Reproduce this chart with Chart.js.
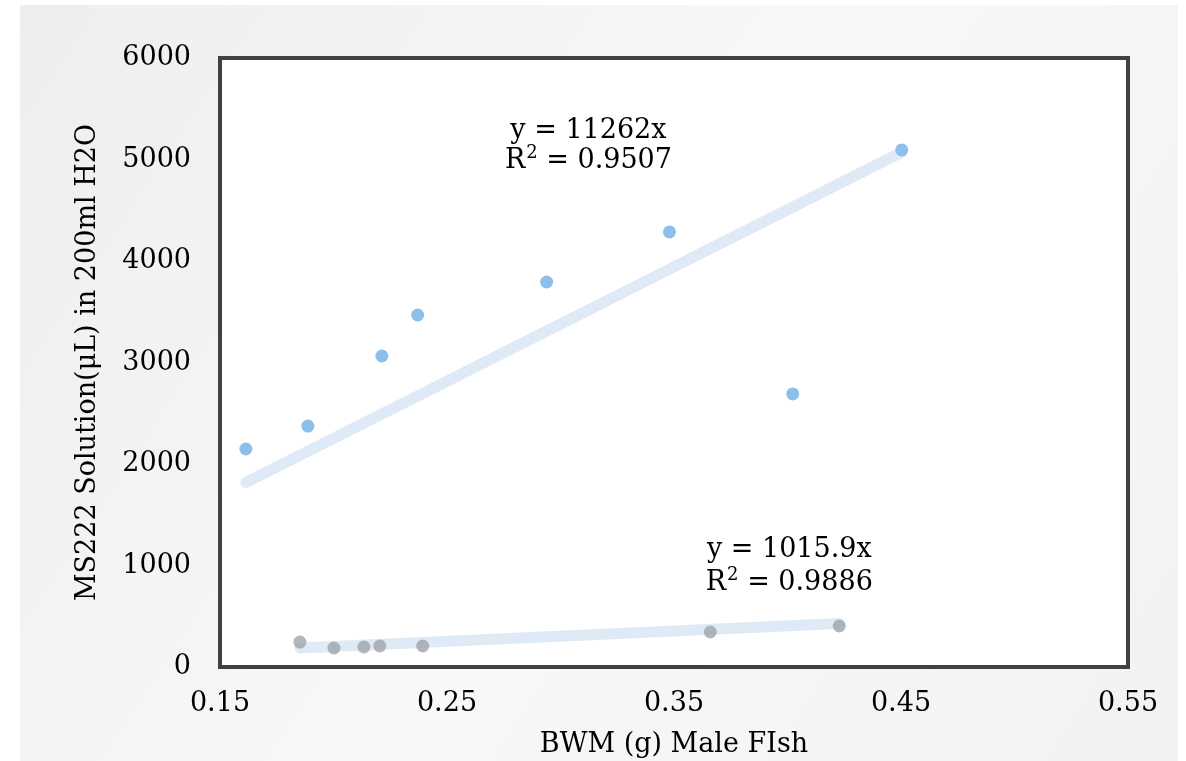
<!DOCTYPE html>
<html>
<head>
<meta charset="utf-8">
<script src="https://cdn.jsdelivr.net/npm/chart.js@4.4.0/dist/chart.umd.min.js"></script>
<style>
  html, body { margin: 0; padding: 0; background: #ffffff; }
  #wrap { width: 1186px; height: 761px; position: relative; }
</style>
</head>
<body>
<div id="wrap"><canvas id="fishChart" width="1186" height="761"></canvas></div>
<script>
// data
const blueX = [0.1614, 0.1887, 0.2213, 0.2371, 0.2939, 0.348, 0.4023, 0.4503];
const blueY = [2148, 2374, 3064, 3468, 3793, 4286, 2690, 5094];
const greyX = [0.1852, 0.2002, 0.2134, 0.2204, 0.2393, 0.366, 0.4228];
const greyY = [246, 187, 197, 207, 207, 345, 404];
const blueSlope = 11262;
const greySlope = 1015.9;
const xTicks = [0.15, 0.25, 0.35, 0.45, 0.55];
const yTicks = [0, 1000, 2000, 3000, 4000, 5000, 6000];
// "^" marks a superscript digit
const eqLabels = [
    { text: 'y = 11262x', x: 0.3123, y: 5281 },
    { text: 'R^2 = 0.9507', x: 0.3123, y: 4985 },
    { text: 'y = 1015.9x', x: 0.4008, y: 1153 },
    { text: 'R^2 = 0.9886', x: 0.4008, y: 828 }
];

const FONT = '"DejaVu Serif", serif';
const FSIZE = 27;

function toPoints(xs, ys) {
    return xs.map((x, i) => ({ x: x, y: ys[i] }));
}
function trend(xs, slope) {
    const lo = Math.min(...xs), hi = Math.max(...xs);
    return [{ x: lo, y: slope * lo }, { x: hi, y: slope * hi }];
}

// draws text centred on (cx, cy), with "^d" as a raised smaller digit
function drawEq(c, text, cx, cy) {
    const big = FSIZE + 'px ' + FONT;
    const small = Math.round(FSIZE * 0.68) + 'px ' + FONT;
    const parts = [];
    const bits = text.split('^');
    parts.push({ s: bits[0], sup: false });
    for (let i = 1; i < bits.length; i++) {
        parts.push({ s: bits[i].charAt(0), sup: true });
        parts.push({ s: bits[i].slice(1), sup: false });
    }
    let total = 0;
    parts.forEach(p => {
        c.font = p.sup ? small : big;
        p.w = c.measureText(p.s).width;
        total += p.w + (p.sup ? 1 : 0);
    });
    let x = cx - total / 2;
    c.textAlign = 'left';
    c.textBaseline = 'middle';
    parts.forEach(p => {
        c.font = p.sup ? small : big;
        c.fillText(p.s, x + (p.sup ? 1 : 0), p.sup ? cy - FSIZE * 0.3 : cy);
        x += p.w + (p.sup ? 1 : 0);
    });
}

// grey panel, white plot area, dark frame, equations
const decor = {
    id: 'decor',
    beforeDraw(chart) {
        const c = chart.ctx, a = chart.chartArea;
        c.save();
        const g = c.createLinearGradient(20, 0, 1180, 761);
        g.addColorStop(0, '#eeeeee');
        g.addColorStop(0.5, '#f8f8f8');
        g.addColorStop(1, '#f2f2f2');
        c.fillStyle = g;
        c.fillRect(20, 5, 1158, 756);
        c.fillStyle = '#ffffff';
        c.fillRect(a.left, a.top, a.right - a.left, a.bottom - a.top);
        c.restore();
    },
    afterDraw(chart) {
        const c = chart.ctx, a = chart.chartArea;
        c.save();
        c.strokeStyle = '#404145';
        c.lineWidth = 4;
        c.strokeRect(a.left, a.top, a.right - a.left, a.bottom - a.top);
        c.fillStyle = '#000000';
        eqLabels.forEach(l => {
            drawEq(c, l.text, chart.scales.x.getPixelForValue(l.x), chart.scales.y.getPixelForValue(l.y));
        });
        c.restore();
    }
};

const ctx = document.getElementById('fishChart').getContext('2d');
new Chart(ctx, {
    type: 'scatter',
    data: {
        datasets: [
            {
                label: 'Blue',
                data: toPoints(blueX, blueY),
                backgroundColor: '#8cbfea',
                borderWidth: 0,
                pointRadius: 6.5
            },
            {
                label: 'Grey',
                data: toPoints(greyX, greyY),
                backgroundColor: 'rgba(160,164,170,0.8)',
                borderWidth: 0,
                pointRadius: 6.5
            },
            {
                type: 'line',
                label: 'Blue trend',
                data: trend(blueX, blueSlope),
                borderColor: '#deebf7',
                borderWidth: 11,
                borderCapStyle: 'round',
                pointRadius: 0,
                fill: false
            },
            {
                type: 'line',
                label: 'Grey trend',
                data: trend(greyX, greySlope),
                borderColor: '#deebf7',
                borderWidth: 11,
                borderCapStyle: 'round',
                pointRadius: 0,
                fill: false
            }
        ]
    },
    options: {
        responsive: false,
        animation: false,
        layout: { padding: { top: 58, right: 58, left: 72, bottom: 0 } },
        plugins: {
            legend: { display: false },
            tooltip: { enabled: false }
        },
        scales: {
            x: {
                type: 'linear',
                min: 0.15,
                max: 0.55,
                grid: { display: false, drawTicks: false },
                border: { display: false },
                afterBuildTicks: axis => { axis.ticks = xTicks.map(v => ({ value: v })); },
                afterFit: axis => { axis.height = 761 - 667; },
                ticks: {
                    padding: 21,
                    color: '#000',
                    font: { family: FONT, size: FSIZE },
                    callback: v => v.toFixed(2)
                },
                title: {
                    display: true,
                    text: 'BWM (g) Male FIsh',
                    color: '#000',
                    font: { family: FONT, size: FSIZE },
                    padding: { top: 0, bottom: 0 }
                }
            },
            y: {
                min: 0,
                max: 6000,
                grid: { display: false, drawTicks: false },
                border: { display: false },
                afterBuildTicks: axis => { axis.ticks = yTicks.map(v => ({ value: v })); },
                afterFit: axis => { axis.width = 220 - 72; },
                ticks: {
                    padding: 29,
                    color: '#000',
                    font: { family: FONT, size: FSIZE },
                    callback: v => String(v)
                },
                title: {
                    display: true,
                    text: 'MS222 Solution(\u03BCL) in 200ml H2O',
                    color: '#000',
                    font: { family: FONT, size: FSIZE },
                    padding: { top: 0, bottom: 0 }
                }
            }
        }
    },
    plugins: [decor]
});
</script>
</body>
</html>
